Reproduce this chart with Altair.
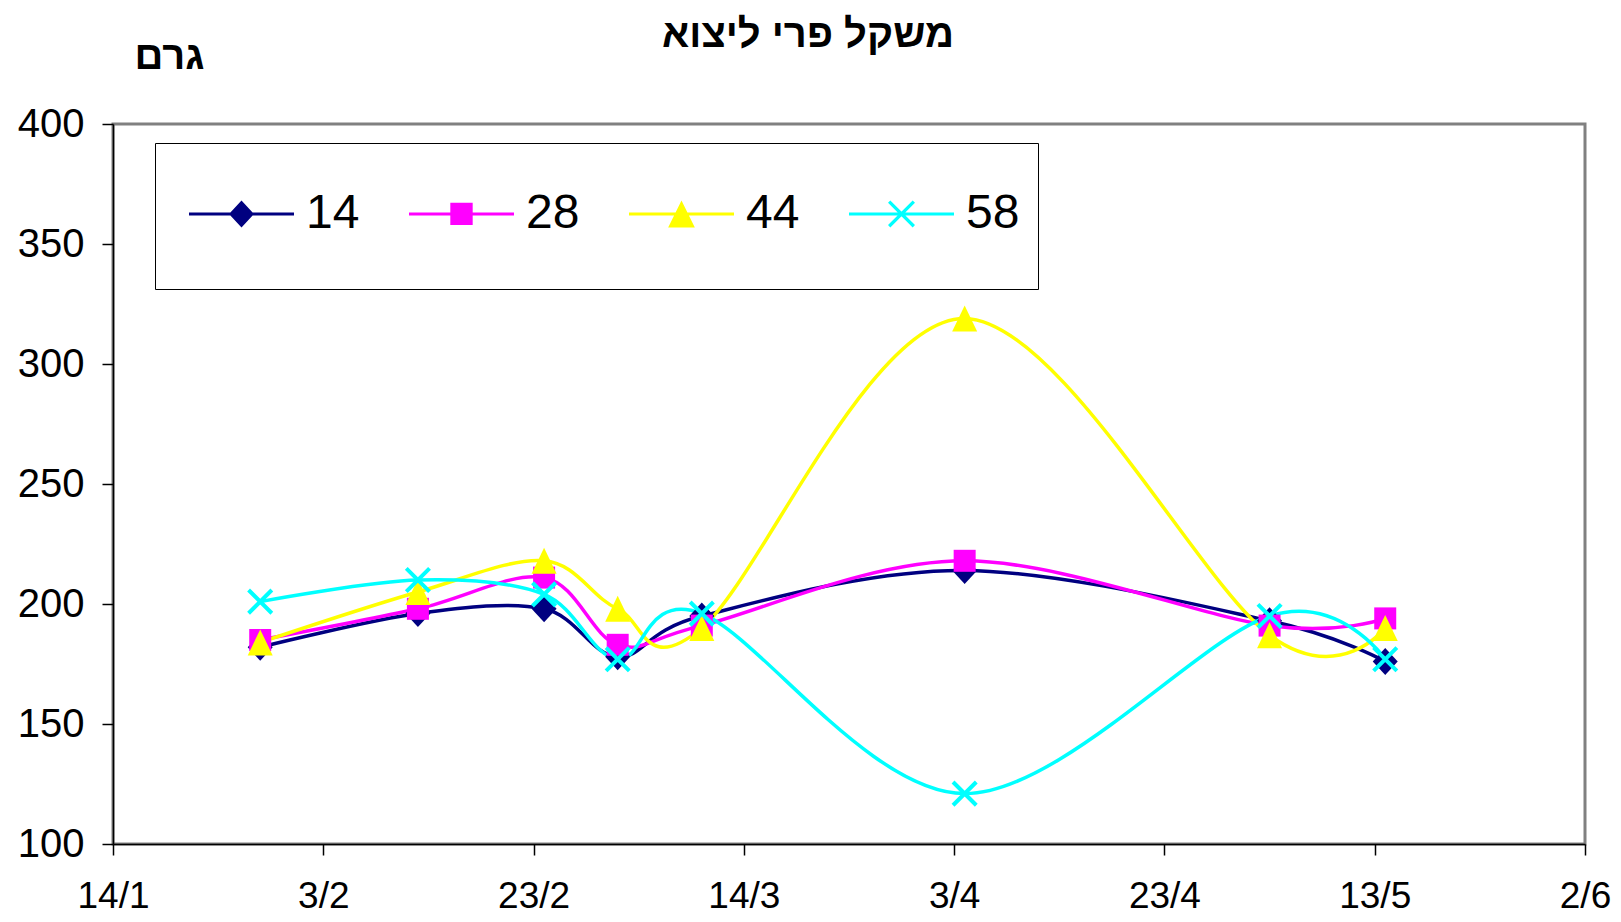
import altair as alt
import pandas as pd

# ---- data ----
dates = ["2004-01-28", "2004-02-12", "2004-02-24", "2004-03-02",
         "2004-03-10", "2004-04-04", "2004-05-03", "2004-05-14"]
series_names = ["14", "28", "44", "58"]
s14 = [182, 196, 198, 178, 195, 214, 193, 176]
s28 = [185, 198, 211, 183, 191, 218, 191, 194]
s44 = [184, 205, 218, 198, 190, 319, 187, 190]
s58 = [201, 210, 204, 177, 196, 121, 195, 177]

tick_dates = ["2004-01-14", "2004-02-03", "2004-02-23", "2004-03-14",
              "2004-04-03", "2004-04-23", "2004-05-13", "2004-06-02"]
y_ticks = [100, 150, 200, 250, 300, 350, 400]

title_text = "משקל פרי ליצוא"
y_title = "גרם"

colors = ["#000080", "#FF00FF", "#FFFF00", "#00FFFF"]

# ---- marker shapes (unit paths) ----
def x_path(s, a):
    return (f"M{-s+a},{-s-a}L{s+a},{s-a}L{s-a},{s+a}L{-s-a},{-s+a}Z"
            f"M{-s-a},{s-a}L{s-a},{-s-a}L{s+a},{-s+a}L{-s+a},{s+a}Z")

plot_shapes = {
    "14": "M0,-1.08L1,0L0,1.08L-1,0Z",
    "28": "M-0.88,-0.88H0.88V0.88H-0.88Z",
    "44": "M0,-1.04L1,1.04H-1Z",
    "58": x_path(0.93, 0.113),
}

t = 0.0286
line_part = f"M-1,{-t}H1V{t}H-1Z"
pad_part = "M0,-1.08M0,1.08"
legend_paths = [
    line_part + "M0,-0.257L0.238,0L0,0.257L-0.238,0Z" + pad_part,
    line_part + "M-0.213,-0.213H0.213V0.213H-0.213Z" + pad_part,
    line_part + "M0,-0.257L0.254,0.257H-0.254Z" + pad_part,
    line_part + x_path(0.235, 0.022) + pad_part,
]

rows = []
for name, vals in zip(series_names, [s14, s28, s44, s58]):
    for d, v in zip(dates, vals):
        rows.append({"date": d, "series": name, "value": v})
df = pd.DataFrame(rows)

def ms(d):
    return int(pd.Timestamp(d, tz="UTC").timestamp() * 1000)

tick_ms = [ms(d) for d in tick_dates]
FONT = "Liberation Sans"

color_scale = alt.Scale(domain=series_names, range=colors)

x_enc = alt.X(
    "date:T",
    scale=alt.Scale(type="utc", domain=[tick_ms[0], tick_ms[-1]], nice=False),
    axis=alt.Axis(values=tick_ms, format="%-d/%-m", title=None, grid=False,
                  tickSize=11, tickWidth=1.5, tickColor="black",
                  domainColor="black", domainWidth=1.5,
                  labelFontSize=37, labelFont=FONT, labelColor="black",
                  labelPadding=23, labelFlush=False, labelOverlap=False),
)
y_enc = alt.Y(
    "value:Q",
    scale=alt.Scale(domain=[100, 400], nice=False, zero=False),
    axis=alt.Axis(values=y_ticks, title=y_title, titleAngle=0, titleX=56, titleY=-56,
                  titleAlign="center", titleBaseline="alphabetic",
                  titleFontSize=40, titleFontWeight="bold", titleFont=FONT,
                  titleColor="black", grid=False,
                  tickSize=11, tickWidth=1.5, tickColor="black",
                  domainColor="black", domainWidth=1.5,
                  labelFontSize=40, labelFont=FONT, labelColor="black",
                  labelPadding=18, labelFlush=False),
)

base = alt.Chart(df).encode(x=x_enc, y=y_enc)

leg = alt.Legend(
    orient="none", legendX=42, legendY=19, direction="horizontal", columns=4,
    title=None, symbolSize=11025, symbolStrokeWidth=0, symbolOffset=16, symbolOpacity=1,
    labelFontSize=48, labelFont=FONT, labelColor="black", labelOffset=12,
    labelLimit=300, columnPadding=33, padding=18,
    strokeColor="black", fillColor="white",
)

# invisible layer that only carries the legend (line + marker symbols)
legend_layer = base.mark_point(filled=True, opacity=0).encode(
    color=alt.Color("series:N", scale=color_scale, legend=leg),
    shape=alt.Shape("series:N", scale=alt.Scale(domain=series_names, range=legend_paths), legend=leg),
)

lines = base.mark_line(interpolate="cardinal", strokeWidth=3.5).encode(
    color=alt.Color("series:N", scale=color_scale, legend=None),
    detail="series:N",
)

point_layers = []
for name in series_names:
    point_layers.append(
        base.transform_filter(alt.datum.series == name)
        .mark_point(shape=plot_shapes[name], filled=True, size=625, opacity=1, strokeWidth=0)
        .encode(color=alt.Color("series:N", scale=color_scale, legend=None))
    )

chart = alt.layer(legend_layer, lines, *point_layers).properties(
    width=1472, height=720,
    background="white",
    title=alt.TitleParams(title_text, fontSize=40, fontWeight="bold", font=FONT,
                          color="black", anchor="middle", frame="group", dx=-41, offset=-19),
    autosize=alt.AutoSizeParams(type="none"),
    padding={"left": 105, "top": 116, "right": 28, "bottom": 78},
).configure_view(
    stroke="#808080", strokeWidth=3
)

chart.save("out.html", embed_options={"renderer": "svg", "actions": False})
